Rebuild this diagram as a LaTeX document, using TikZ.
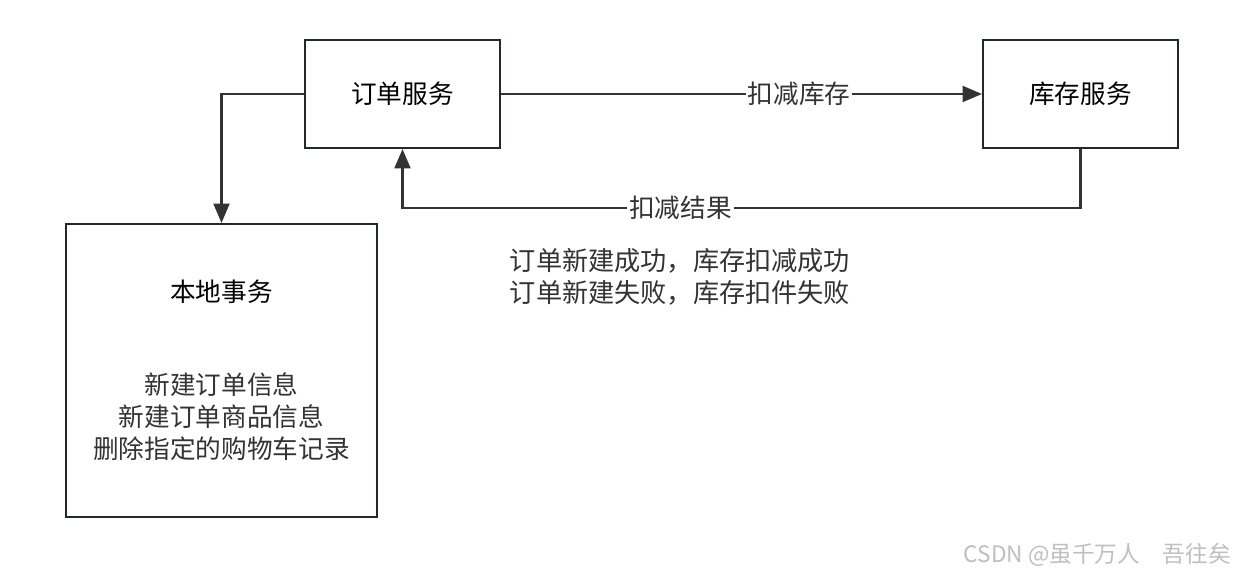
\documentclass[tikz,border=0pt]{standalone}
\usepackage{fontspec}
\setmainfont{Noto Sans CJK SC}
\usepackage{xcolor}
\usetikzlibrary{arrows.meta}
\definecolor{linegray}{HTML}{333333}
\definecolor{boxline}{HTML}{1E2A30}
\definecolor{marktext}{HTML}{BFBFBF}
\tikzset{
    svcbox/.style={draw=boxline, line width=1.2pt, minimum width=3.9cm, minimum height=2.16cm, inner sep=0pt},
    flow/.style={draw=linegray, line width=1.4pt, -{Triangle[length=11pt, width=9pt]}},
    flowlabel/.style={fill=white, inner sep=1pt, text=linegray}
}
\begin{document}
\begin{tikzpicture}[x=0.02cm, y=-0.02cm, font=\fontsize{14.6}{17}\selectfont]
    \useasboundingbox [fill=white] (0,0) rectangle (1240,574);

    \node [svcbox] (order) at (402.5,94){订单服务};
    \node [svcbox] (stock) at (1080.5,94){库存服务};
    \node [draw=boxline, line width=1.2pt, minimum width=6.22cm, minimum height=5.86cm, inner sep=0pt] (local) at (221.5,370.5){};
    \node (localtitle) at (221.5,292){本地事务};
    \node [align=center, text=linegray, font=\fontsize{14.6}{18.2}\selectfont] (localsteps) at (221.5,417){新建订单信息\\新建订单商品信息\\删除指定的购物车记录};

    % order -> stock
    \draw [flow] (order.east) -- (stock.west)
        node [flowlabel, pos=0.62] (deduct) {扣减库存};
    % stock -> order
    \draw [flow] (stock.south) |- (402.5,208)
        node [flowlabel, pos=0.795] (result) {扣减结果} -- (order.south);
    % order -> local
    \draw [flow] (order.west) -| (local.north);

    \node [align=left, text=linegray, font=\fontsize{14.9}{18}\selectfont] (outcome) at (680,277){订单新建成功，库存扣减成功\\订单新建失败，库存扣件失败};

    \node [text=marktext, font=\fontsize{12.9}{14}\selectfont, anchor=east] (mark) at (1237,555){CSDN @虽千万人　吾往矣};
\end{tikzpicture}
\end{document}
